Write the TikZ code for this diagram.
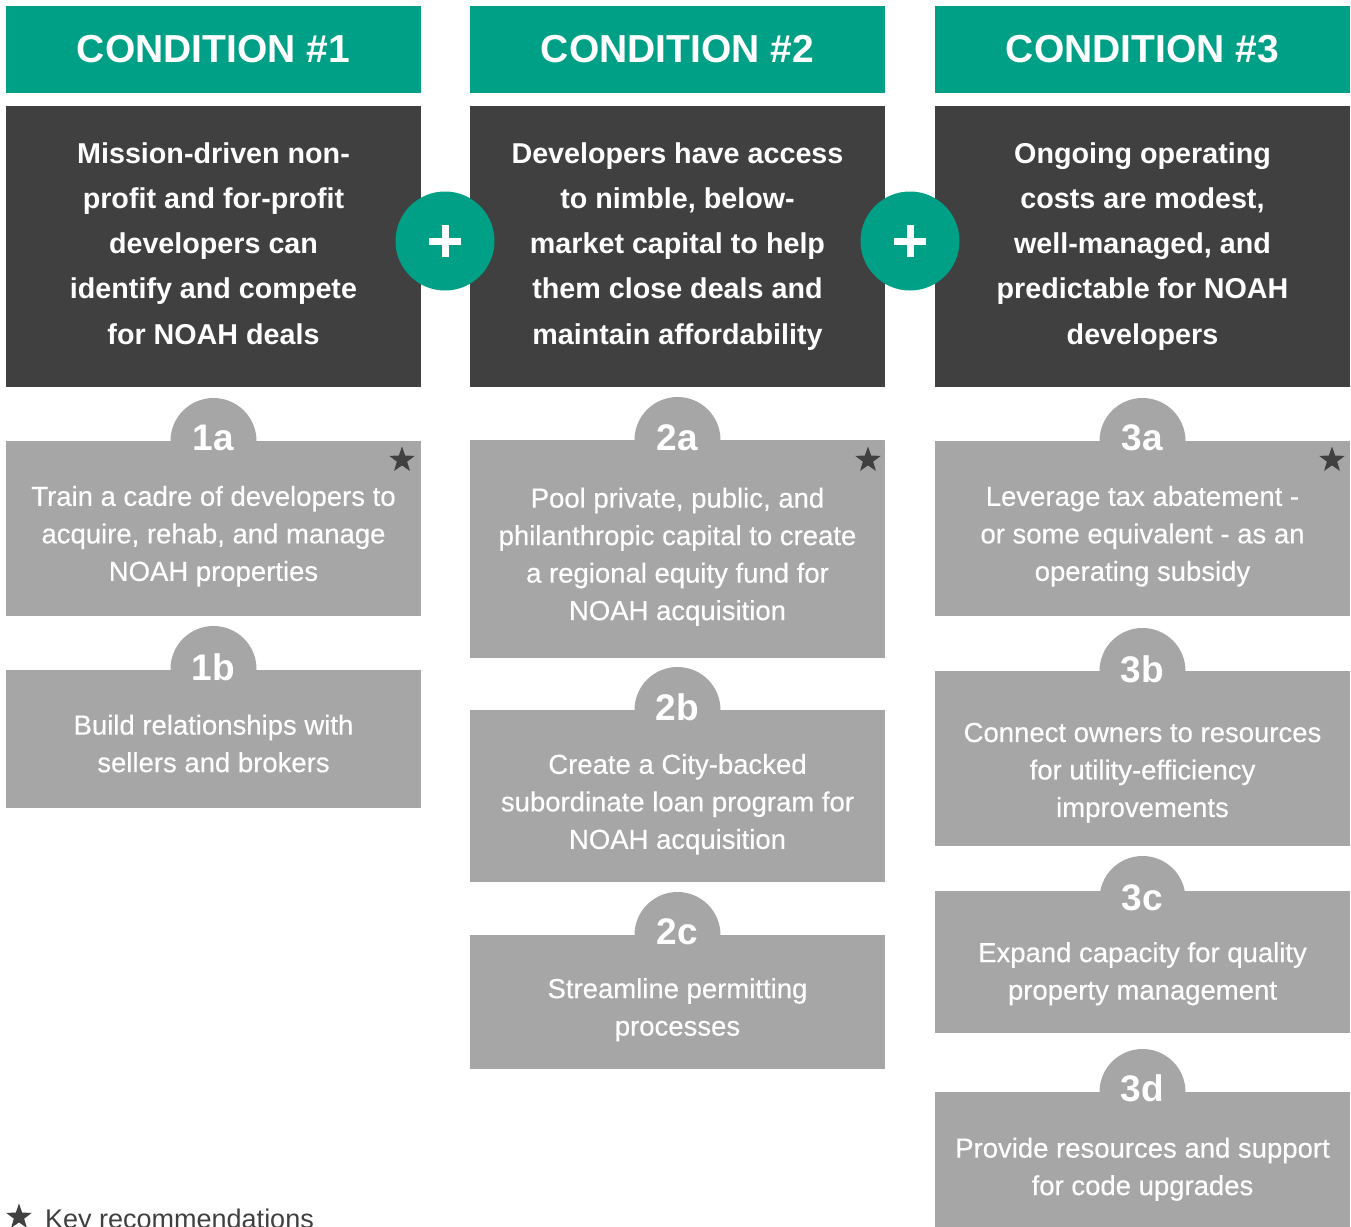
\documentclass[tikz,border=0pt]{standalone}
\usepackage{fontspec}
\setmainfont{Liberation Sans}
\usetikzlibrary{shapes.geometric}
\definecolor{teal1}{HTML}{00A086}
\definecolor{dark1}{HTML}{404040}
\definecolor{gray1}{HTML}{A6A6A6}
\tikzset{
  header/.style={fill=teal1, minimum width=415pt, minimum height=87pt, inner sep=0pt,
    text=white, font=\bfseries\fontsize{39}{39}\selectfont},
  darkbox/.style={fill=dark1, minimum width=415pt, inner sep=0pt},
  darktext/.style={text=white, align=center, inner sep=0pt,
    font=\bfseries\fontsize{28.7}{45.3}\selectfont,
    execute at begin node=\strut, execute at end node=\strut},
  graybox/.style={fill=gray1, minimum width=415pt, inner sep=0pt},
  badge/.style={circle, fill=gray1, minimum size=86pt, inner sep=0pt},
  badgetext/.style={text=white, anchor=base, inner sep=0pt,
    font=\bfseries\fontsize{37}{37}\selectfont},
  graytext/.style={text=white, align=center, inner sep=0pt,
    font=\fontsize{27.5}{37.5}\selectfont\addfontfeature{FakeBold=0.4},
    execute at begin node=\strut, execute at end node=\strut},
  keystar/.style={star, star points=5, star point ratio=2.5, fill=dark1,
    minimum size=27pt, inner sep=0pt},
  pluscirc/.style={circle, fill=teal1, minimum size=99pt, inner sep=0pt},
  plusbar/.style={draw=white, line width=7pt},
}
\begin{document}
\begin{tikzpicture}[x=1pt,y=-1pt]
\useasboundingbox (0,0) rectangle (1351,1226);
\fill[white] (0,0) rectangle (1351,1226);

% headers
\node[header] (h1) at (213.5,49.5) {CONDITION \#1};
\node[header] (h2) at (677.5,49.5) {CONDITION \#2};
\node[header] (h3) at (1142.5,49.5) {CONDITION \#3};

% dark boxes
\node[darkbox, minimum height=281pt] (d1) at (213.5,246.5) {};
\node[darkbox, minimum height=281pt] (d2) at (677.5,246.5) {};
\node[darkbox, minimum height=281pt] (d3) at (1142.5,246.5) {};
\node[darktext] (dt1) at (213.5,250) {Mission-driven non-\\profit and for-profit\\developers can\\identify and compete\\for NOAH deals};
\node[darktext] (dt2) at (677.5,250) {Developers have access\\to nimble, below-\\market capital to help\\them close deals and\\maintain affordability};
\node[darktext] (dt3) at (1142.5,250) {Ongoing operating\\costs are modest,\\well-managed, and\\predictable for NOAH\\developers};

% plus circles
\node[pluscirc] (p1) at (445,241) {};
\node[pluscirc] (p2) at (910,241) {};
\draw[plusbar] ([xshift=-16pt]p1.center) -- ([xshift=16pt]p1.center);
\draw[plusbar] ([yshift=-16pt]p1.center) -- ([yshift=16pt]p1.center);
\draw[plusbar] ([xshift=-16pt]p2.center) -- ([xshift=16pt]p2.center);
\draw[plusbar] ([yshift=-16pt]p2.center) -- ([yshift=16pt]p2.center);

% column 1
\node[badge] (c1a) at (213.5,441) {};
\node[graybox, minimum height=175pt] (b1a) at (213.5,528.5) {};
\node[badgetext] (l1a) at (213.5,450) {1a};
\node[graytext] (t1a) at (213.5,539) {Train a cadre of developers to\\acquire, rehab, and manage\\NOAH properties};
\node[keystar] (s1a) at (402,460) {};

\node[badge] (c1b) at (213.5,669) {};
\node[graybox, minimum height=138pt] (b1b) at (213.5,739) {};
\node[badgetext] (l1b) at (213.5,680) {1b};
\node[graytext] (t1b) at (213.5,749) {Build relationships with\\sellers and brokers};

% column 2
\node[badge] (c2a) at (677.5,440) {};
\node[graybox, minimum height=218pt] (b2a) at (677.5,549) {};
\node[badgetext] (l2a) at (677.5,450) {2a};
\node[graytext] (t2a) at (677.5,559.5) {Pool private, public, and\\philanthropic capital to create\\a regional equity fund for\\NOAH acquisition};
\node[keystar] (s2a) at (868,460) {};

\node[badge] (c2b) at (677.5,710) {};
\node[graybox, minimum height=172pt] (b2b) at (677.5,796) {};
\node[badgetext] (l2b) at (677.5,720) {2b};
\node[graytext] (t2b) at (677.5,807) {Create a City-backed\\subordinate loan program for\\NOAH acquisition};

\node[badge] (c2c) at (677.5,935) {};
\node[graybox, minimum height=134pt] (b2c) at (677.5,1002) {};
\node[badgetext] (l2c) at (677.5,944) {2c};
\node[graytext] (t2c) at (677.5,1012.5) {Streamline permitting\\processes};

% column 3
\node[badge] (c3a) at (1142.5,441) {};
\node[graybox, minimum height=175pt] (b3a) at (1142.5,528.5) {};
\node[badgetext] (l3a) at (1142.5,450) {3a};
\node[graytext] (t3a) at (1142.5,539) {Leverage tax abatement -\\or some equivalent - as an\\operating subsidy};
\node[keystar] (s3a) at (1332,460) {};

\node[badge] (c3b) at (1142.5,671) {};
\node[graybox, minimum height=175pt] (b3b) at (1142.5,758.5) {};
\node[badgetext] (l3b) at (1142.5,682) {3b};
\node[graytext] (t3b) at (1142.5,775.5) {Connect owners to resources\\for utility-efficiency\\improvements};

\node[badge] (c3c) at (1142.5,899) {};
\node[graybox, minimum height=142pt] (b3c) at (1142.5,962) {};
\node[badgetext] (l3c) at (1142.5,910) {3c};
\node[graytext] (t3c) at (1142.5,976.5) {Expand capacity for quality\\property management};

\node[badge] (c3d) at (1142.5,1092) {};
\node[graybox, minimum height=150pt] (b3d) at (1142.5,1167) {};
\node[badgetext] (l3d) at (1142.5,1101) {3d};
\node[graytext] (t3d) at (1142.5,1172) {Provide resources and support\\for code upgrades};

% legend
\node[keystar] (ls) at (19,1217) {};
\node[anchor=base west, inner sep=0pt, text=dark1, font=\fontsize{27}{27}\selectfont] (lt) at (45,1228) {Key recommendations};
\end{tikzpicture}
\end{document}
